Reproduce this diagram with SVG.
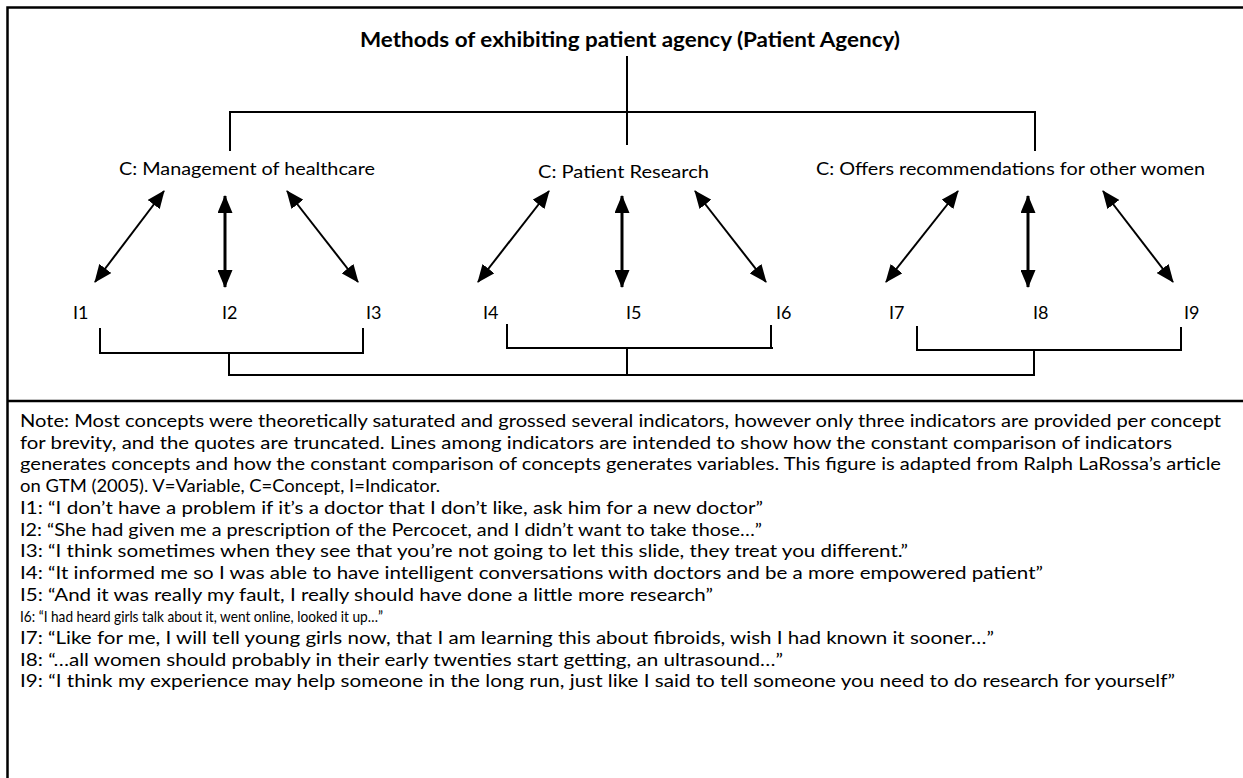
<svg xmlns="http://www.w3.org/2000/svg" width="1243" height="778" viewBox="0 0 1243 778">
<defs>
<marker id="ah" viewBox="0 0 18 15" refX="17" refY="7.5" markerWidth="18" markerHeight="15" markerUnits="userSpaceOnUse" orient="auto-start-reverse">
<path d="M0,0 L18,7.5 L0,15 z" fill="#000"/>
</marker>
<style>
text{font-family:Lato,"Open Sans","Liberation Sans",sans-serif;fill:#000}
.t{font-size:20px;font-weight:bold}
.c{font-size:18px}
.i{font-size:18px}
.n{font-size:17px}
.n6{font-size:16px}
.ln{stroke:#000;stroke-width:2;fill:none}
.ar{stroke:#000;stroke-width:2;fill:none;marker-start:url(#ah);marker-end:url(#ah)}
.av{stroke:#000;stroke-width:3;fill:none;marker-start:url(#ah);marker-end:url(#ah)}
.fr{stroke:#000;stroke-width:2.5;fill:none}
</style>
</defs>
<rect width="1243" height="778" fill="#fff"/>
<g id="frame">
<path class="fr" d="M7.5,778 V7.5 H1243"/>
<path class="fr" d="M7.5,401 H1243"/>
</g>
<g id="title"><text class="t" x="360" y="47" textLength="540" lengthAdjust="spacingAndGlyphs">Methods of exhibiting patient agency (Patient Agency)</text></g>
<g id="c1"><text class="c" x="119" y="175" textLength="256" lengthAdjust="spacingAndGlyphs">C: Management of healthcare</text></g>
<g id="c2"><text class="c" x="538" y="178" textLength="171" lengthAdjust="spacingAndGlyphs">C: Patient Research</text></g>
<g id="c3"><text class="c" x="816" y="175" textLength="389" lengthAdjust="spacingAndGlyphs">C: Offers recommendations for other women</text></g>
<g id="i1"><text class="i" x="73" y="319">I1</text></g>
<g id="i2"><text class="i" x="222" y="319">I2</text></g>
<g id="i3"><text class="i" x="366" y="319">I3</text></g>
<g id="i4"><text class="i" x="483" y="319">I4</text></g>
<g id="i5"><text class="i" x="626" y="319">I5</text></g>
<g id="i6"><text class="i" x="776" y="319">I6</text></g>
<g id="i7"><text class="i" x="889" y="319">I7</text></g>
<g id="i8"><text class="i" x="1033" y="319">I8</text></g>
<g id="i9"><text class="i" x="1184" y="319">I9</text></g>
<g id="connectors">
<path class="ln" d="M627,56 V145"/>
<path class="ln" d="M230,151 V112 H1035 V151"/>
<line class="ar" x1="164" y1="191" x2="95" y2="282"/>
<line class="av" x1="225" y1="196" x2="225" y2="287"/>
<line class="ar" x1="287" y1="191" x2="358" y2="282"/>
<line class="ar" x1="549" y1="191" x2="478" y2="282"/>
<line class="av" x1="622" y1="196" x2="622" y2="287"/>
<line class="ar" x1="695" y1="191" x2="766" y2="282"/>
<line class="ar" x1="958" y1="191" x2="886" y2="282"/>
<line class="av" x1="1028" y1="196" x2="1028" y2="287"/>
<line class="ar" x1="1103" y1="191" x2="1173" y2="282"/>
<path class="ln" d="M100,328 V353 H364 M363,328 V353"/>
<path class="ln" d="M507,324 V348 H773 M771,325 V348"/>
<path class="ln" d="M917,326 V350 H1181 V327"/>
<path class="ln" d="M229,353 V375 H1035 M627,348 V375 M1034,350 V375"/>
</g>
<g id="note">
<text class="n" x="20" y="427" textLength="1201" lengthAdjust="spacingAndGlyphs">Note: Most concepts were theoretically saturated and grossed several indicators, however only three indicators are provided per concept</text>
<text class="n" x="20" y="449" textLength="1152" lengthAdjust="spacingAndGlyphs">for brevity, and the quotes are truncated. Lines among indicators are intended to show how the constant comparison of indicators</text>
<text class="n" x="20" y="470" textLength="1201" lengthAdjust="spacingAndGlyphs">generates concepts and how the constant comparison of concepts generates variables. This figure is adapted from Ralph LaRossa’s article</text>
<text class="n" x="20" y="492" textLength="420" lengthAdjust="spacingAndGlyphs">on GTM (2005). V=Variable, C=Concept, I=Indicator.</text>
<text class="n" x="20" y="514" textLength="743" lengthAdjust="spacingAndGlyphs">I1: “I don’t have a problem if it’s a doctor that I don’t like, ask him for a new doctor”</text>
<text class="n" x="20" y="536" textLength="742" lengthAdjust="spacingAndGlyphs">I2: “She had given me a prescription of the Percocet, and I didn’t want to take those…”</text>
<text class="n" x="20" y="557" textLength="888" lengthAdjust="spacingAndGlyphs">I3: “I think sometimes when they see that you’re not going to let this slide, they treat you different.”</text>
<text class="n" x="20" y="579" textLength="1023" lengthAdjust="spacingAndGlyphs">I4: “It informed me so I was able to have intelligent conversations with doctors and be a more empowered patient”</text>
<text class="n" x="20" y="601" textLength="693" lengthAdjust="spacingAndGlyphs">I5: “And it was really my fault, I really should have done a little more research”</text>
<text class="n6" x="20" y="622" textLength="363" lengthAdjust="spacingAndGlyphs">I6: “I had heard girls talk about it, went online, looked it up…”</text>
<text class="n" x="20" y="644" textLength="974" lengthAdjust="spacingAndGlyphs">I7: “Like for me, I will tell young girls now, that I am learning this about fibroids, wish I had known it sooner…”</text>
<text class="n" x="20" y="666" textLength="763" lengthAdjust="spacingAndGlyphs">I8: “…all women should probably in their early twenties start getting, an ultrasound…”</text>
<text class="n" x="20" y="687" textLength="1155" lengthAdjust="spacingAndGlyphs">I9: “I think my experience may help someone in the long run, just like I said to tell someone you need to do research for yourself”</text>
</g>
</svg>
